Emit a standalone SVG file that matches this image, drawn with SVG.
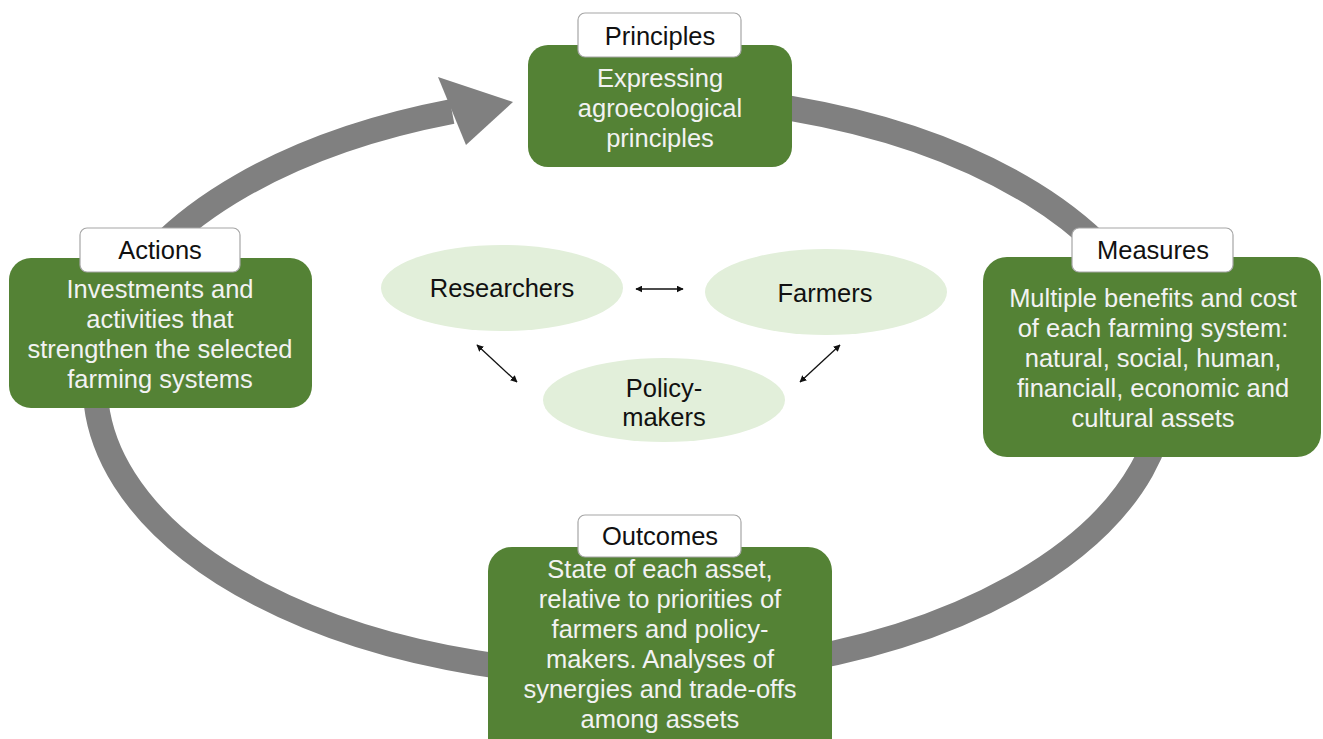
<svg xmlns="http://www.w3.org/2000/svg" width="1323" height="739" viewBox="0 0 1323 739">
<defs>
<style>
.box{fill:#548235;}
.lbl{fill:#ffffff;stroke:#a6a6a6;stroke-width:1.2;}
.ell{fill:#e2efda;}
.wt{font-family:"Liberation Sans",Arial,sans-serif;font-size:25.5px;fill:#f2f2f2;text-anchor:middle;}
.bt{font-family:"Liberation Sans",Arial,sans-serif;font-size:25.5px;fill:#111111;text-anchor:middle;}
.ring{fill:none;stroke:#808080;stroke-width:25;}
.thin{fill:none;stroke:#111111;stroke-width:1.3;marker-start:url(#ah);marker-end:url(#ah);}
</style>
<marker id="ah" viewBox="0 0 10 10" refX="9" refY="5" markerWidth="7" markerHeight="7" orient="auto-start-reverse" markerUnits="userSpaceOnUse">
<path d="M0,0 L10,5 L0,10 z" fill="#111111"/>
</marker>
</defs>
<rect width="1323" height="739" fill="#ffffff"/>
<g id="connectors">
<path class="ring" d="M540,99.1 A535,290 0 1,1 452,111.5"/>
<polygon points="513,102 438,77 466,145" fill="#808080"/>
<line class="thin" x1="636" y1="289" x2="683" y2="289"/>
<line class="thin" x1="477" y1="345" x2="517" y2="382"/>
<line class="thin" x1="840" y1="345" x2="800" y2="382"/>
</g>
<g id="principles">
<rect class="box" x="528" y="45" width="264" height="122" rx="20"/>
<rect class="lbl" x="578" y="13" width="163" height="44" rx="7"/>
<text class="bt" x="660" y="45">Principles</text>
<text class="wt" x="660" y="87">Expressing</text>
<text class="wt" x="660" y="117">agroecological</text>
<text class="wt" x="660" y="147">principles</text>
</g>
<g id="actions">
<rect class="box" x="9" y="258" width="303" height="150" rx="22"/>
<rect class="lbl" x="80" y="228" width="160" height="44" rx="7"/>
<text class="bt" x="160" y="259">Actions</text>
<text class="wt" x="160" y="298">Investments and</text>
<text class="wt" x="160" y="328">activities that</text>
<text class="wt" x="160" y="358">strengthen the selected</text>
<text class="wt" x="160" y="388">farming systems</text>
</g>
<g id="measures">
<rect class="box" x="983" y="257" width="338" height="200" rx="24"/>
<rect class="lbl" x="1072" y="228" width="161" height="44" rx="7"/>
<text class="bt" x="1153" y="259">Measures</text>
<text class="wt" x="1153" y="307">Multiple benefits and cost</text>
<text class="wt" x="1153" y="337">of each farming system:</text>
<text class="wt" x="1153" y="367">natural, social, human,</text>
<text class="wt" x="1153" y="397">financiall, economic and</text>
<text class="wt" x="1153" y="427">cultural assets</text>
</g>
<g id="outcomes">
<rect class="box" x="488" y="547" width="344" height="220" rx="24"/>
<rect class="lbl" x="578" y="515" width="163" height="42" rx="7"/>
<text class="bt" x="660" y="545">Outcomes</text>
<text class="wt" x="660" y="578">State of each asset,</text>
<text class="wt" x="660" y="608">relative to priorities of</text>
<text class="wt" x="660" y="638">farmers and policy-</text>
<text class="wt" x="660" y="668">makers. Analyses of</text>
<text class="wt" x="660" y="698">synergies and trade-offs</text>
<text class="wt" x="660" y="728">among assets</text>
</g>
<g id="researchers">
<ellipse class="ell" cx="502" cy="288" rx="121" ry="43"/>
<text class="bt" x="502" y="297">Researchers</text>
</g>
<g id="farmers">
<ellipse class="ell" cx="826" cy="292" rx="121" ry="43"/>
<text class="bt" x="825" y="302">Farmers</text>
</g>
<g id="policymakers">
<ellipse class="ell" cx="664" cy="400" rx="121" ry="42"/>
<text class="bt" x="664" y="397">Policy-</text>
<text class="bt" x="664" y="426">makers</text>
</g>
</svg>
